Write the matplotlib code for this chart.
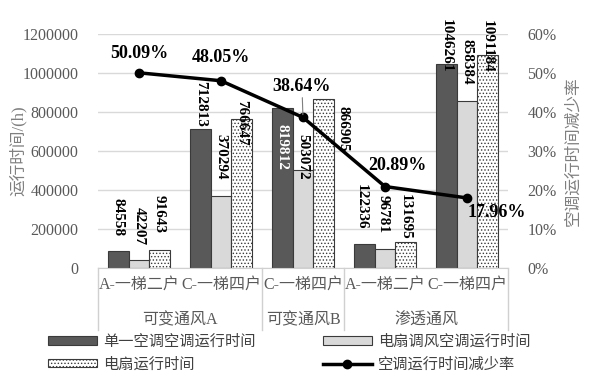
import matplotlib
matplotlib.use("Agg")
import matplotlib.pyplot as plt
import numpy as np
from matplotlib.lines import Line2D

plt.rcParams['font.family'] = ['Liberation Serif', 'Noto Sans CJK SC']
plt.rcParams['hatch.linewidth'] = 0.6

# data
cats = ["A-一梯二户", "C-一梯四户", "C-一梯四户", "A-一梯二户", "C-一梯四户"]
groups = ["可变通风A", "可变通风B", "渗透通风"]
group_span = [(0, 1), (2, 2), (3, 4)]
single_ac = [84558, 712813, 819812, 122336, 1046261]
fan_ac = [42207, 370294, 503072, 96781, 858384]
fan_only = [91643, 766647, 866905, 131695, 1091184]
reduce_rate = [50.09, 48.05, 38.64, 20.89, 17.96]
yticks_left = [0, 200000, 400000, 600000, 800000, 1000000, 1200000]
yticks_right = [0, 10, 20, 30, 40, 50, 60]

# label nudges in pixels (dx, dy of label bottom vs bar top)
nudge_single = [(0, 15), (0, 2), (0, -62), (-3, 14), (0, -8)]
nudge_fan_ac = [(0, 15), (0, 16), (0, -10), (-2, 16), (0, 16)]
nudge_fan = [(0, 17), (0, -27), (20, -53), (0, 3), (0, -17)]
nudge_rate = [(0, 19), (0, 23), (-1, 31), (12, 21), (30, -15)]

fig = plt.figure(figsize=(5.9, 3.8), dpi=100)
ax = fig.add_axes([0.166, 0.295, 0.695, 0.615])
ax2 = ax.twinx()

x = np.arange(len(cats))
w = 0.25
ec = '#3a3a3a'
b1 = ax.bar(x - w, single_ac, w, color='#595959', edgecolor=ec, linewidth=0.8, zorder=2)
b2 = ax.bar(x, fan_ac, w, color='#d9d9d9', edgecolor=ec, linewidth=0.8, zorder=2)
b3 = ax.bar(x + w, fan_only, w, color='white', edgecolor=ec, linewidth=0.8,
            hatch='.....', zorder=2)

px = 0.72  # points per pixel
for bars, vals, nud in [(b1, single_ac, nudge_single),
                        (b2, fan_ac, nudge_fan_ac),
                        (b3, fan_only, nudge_fan)]:
    for i, (r, v) in enumerate(zip(bars, vals)):
        c = 'black'
        if bars is b1 and i == 2:
            c = 'white'
        ax.annotate(str(v), (r.get_x() + r.get_width() / 2, v),
                    xytext=(nud[i][0] * px, nud[i][1] * px), textcoords='offset points',
                    rotation=270, ha='center', va='bottom', fontsize=11,
                    fontweight='bold', color=c, zorder=5)

ax.set_ylim(0, 1200000)
ax.set_yticks(yticks_left)
ax.set_yticklabels([str(t) for t in yticks_left])
ax.set_xlim(-0.5, 4.5)
ax.set_xticks([])
ax.grid(axis='y', color='#d9d9d9', linewidth=1, zorder=0)
ax.set_axisbelow(True)
for s in ['top', 'left', 'right']:
    ax.spines[s].set_visible(False)
    ax2.spines[s].set_visible(False)
ax.spines['bottom'].set_color('#d0d0d0')
ax2.spines['bottom'].set_visible(False)
ax.tick_params(axis='y', length=0, labelsize=11.5, labelcolor='#595959', pad=14)
ax.set_ylabel("运行时间/(h)", fontsize=12, color='#7f7f7f', labelpad=-3)

ax2.plot(x, reduce_rate, color='black', linewidth=2.5, marker='o', markersize=6, zorder=4)
ax2.set_ylim(0, 60)
ax2.set_yticks(yticks_right)
ax2.set_yticklabels([f"{t}%" for t in yticks_right])
ax2.tick_params(axis='y', length=0, labelsize=11.5, labelcolor='#595959', pad=14)
ax2.set_ylabel("空调运行时间减少率", fontsize=12, color='#7f7f7f', rotation=90, labelpad=6)
for i, v in enumerate(reduce_rate):
    kw = {}
    if i == 2:
        kw = dict(arrowprops=dict(arrowstyle='-', color='#7f7f7f', lw=0.8, shrinkA=0, shrinkB=2))
    ax2.annotate(f"{v:.2f}%", (x[i], v), xytext=(nudge_rate[i][0] * px, nudge_rate[i][1] * px),
                 textcoords='offset points', ha='center', va='center', fontsize=13,
                 fontweight='bold', color='black', zorder=6, **kw)

# multi-level category axis
tr = ax.get_xaxis_transform()
for i, c in enumerate(cats):
    ax.text(x[i], -0.073, c, transform=tr, ha='center', va='center',
            fontsize=11.5, color='#595959')
for g, (a, b) in zip(groups, group_span):
    ax.text((a + b) / 2, -0.225, g, transform=tr, ha='center', va='center',
            fontsize=11.5, color='#595959')
for xs in [-0.5, 1.5, 2.5, 4.5]:
    ax.plot([xs, xs], [0, -0.265], transform=tr, color='#d0d0d0', linewidth=1, clip_on=False)

# legend
line_h = Line2D([], [], color='black', linewidth=2.5, marker='o', markersize=6)
handles = [b1, b3, b2, line_h]
labels = ["单一空调空调运行时间", "电扇运行时间", "电扇调风空调运行时间", "空调运行时间减少率"]
fig.legend(handles, labels, ncol=2, loc='center', bbox_to_anchor=(0.49, 0.071),
           frameon=False, fontsize=11, handlelength=3.2, handleheight=0.5,
           columnspacing=4.4, labelspacing=0.55, handletextpad=0.4, labelcolor='#404040')

fig.savefig("out.png", dpi=100)
